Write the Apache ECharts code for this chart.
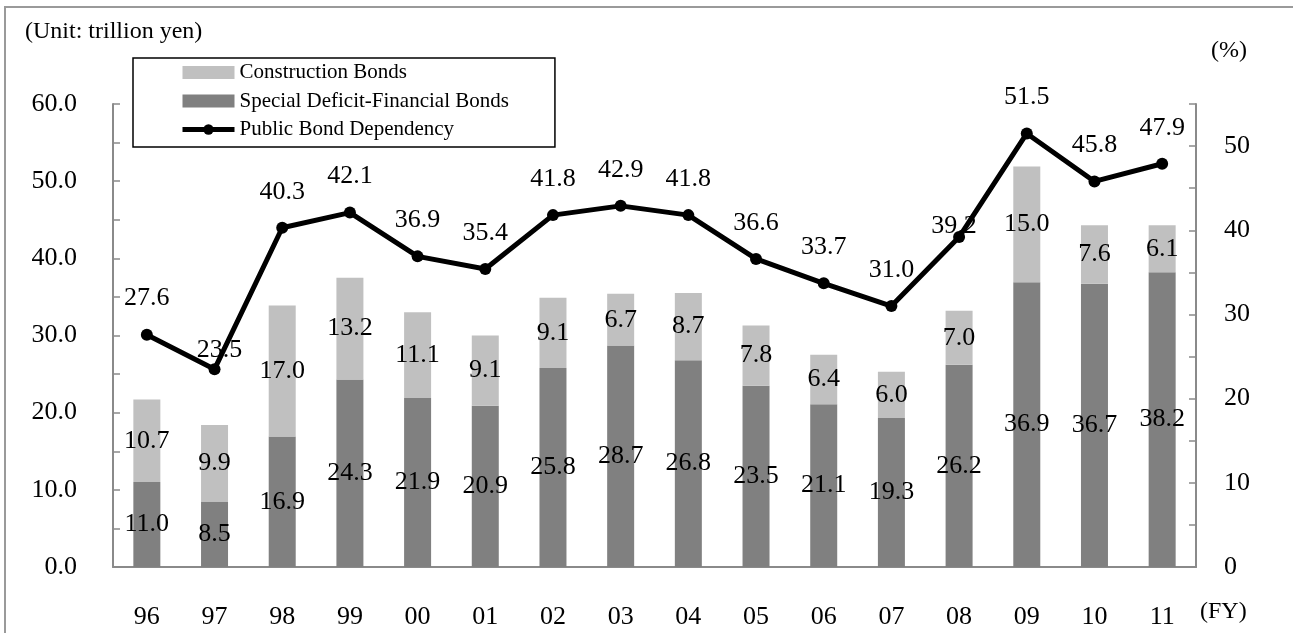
<!DOCTYPE html>
<html>
<head>
<meta charset="utf-8">
<script src="https://cdn.jsdelivr.net/npm/echarts@6/dist/echarts.min.js"></script>
<style>
html,body{margin:0;padding:0;background:#fff;}
#chart{width:1293px;height:633px;}
</style>
</head>
<body>
<div id="chart"></div>
<script>
// ---- data ----
var categories = ['96','97','98','99','00','01','02','03','04','05','06','07','08','09','10','11'];
var specialDeficitBonds = [11.0, 8.5, 16.9, 24.3, 21.9, 20.9, 25.8, 28.7, 26.8, 23.5, 21.1, 19.3, 26.2, 36.9, 36.7, 38.2];
var constructionBonds = [10.7, 9.9, 17.0, 13.2, 11.1, 9.1, 9.1, 6.7, 8.7, 7.8, 6.4, 6.0, 7.0, 15.0, 7.6, 6.1];
var bondDependency = [27.6, 23.5, 40.3, 42.1, 36.9, 35.4, 41.8, 42.9, 41.8, 36.6, 33.7, 31.0, 39.2, 51.5, 45.8, 47.9];
var leftTicks = [0, 10, 20, 30, 40, 50, 60];
var rightTicks = [0, 10, 20, 30, 40, 50];

// label nudges for the line (style only)
var lineLabelNudge = {1: [5, 17], 12: [-5, 25]};

var FONT = '"Liberation Serif", "Times New Roman", serif';
var AXIS_COLOR = '#8a8a8a';
var FS = 26;

var lineData = bondDependency.map(function (v, i) {
  var d = {value: v};
  if (lineLabelNudge[i]) d.label = {offset: lineLabelNudge[i]};
  return d;
});

var chart = echarts.init(document.getElementById('chart'), null, {renderer: 'canvas'});
chart.setOption({
  backgroundColor: '#fff',
  animation: false,
  textStyle: {fontFamily: FONT, color: '#000'},
  graphic: [
    {type: 'rect', shape: {x: 5, y: 7, width: 1300, height: 640},
     style: {fill: 'none', stroke: '#9a9a9a', lineWidth: 2}, silent: true, z: -1},
    {type: 'text', left: 25, top: 20,
     style: {text: '(Unit: trillion yen)', font: '24px ' + FONT, fill: '#000'}},
    {type: 'text', left: 1211, top: 39,
     style: {text: '(%)', font: '24px ' + FONT, fill: '#000'}},
    {type: 'text', left: 1200, top: 600,
     style: {text: '(FY)', font: '24px ' + FONT, fill: '#000'}}
  ],
  legend: {
    orient: 'vertical',
    left: 133, top: 58,
    data: [
      {name: 'Construction Bonds', icon: 'rect'},
      {name: 'Special Deficit-Financial Bonds', icon: 'rect'},
      {name: 'Public Bond Dependency', lineStyle: {width: 5, color: '#000'}, itemStyle: {color: '#000'}}
    ],
    itemWidth: 52, itemHeight: 13, itemGap: 7.5,
    padding: [4, 46, 7, 47],
    borderColor: '#000', borderWidth: 1.5,
    textStyle: {fontFamily: FONT, fontSize: 21, color: '#000'},
    selectedMode: false
  },
  grid: {left: 113, right: 97, top: 104, bottom: 66},
  xAxis: {
    type: 'category',
    data: categories,
    boundaryGap: true,
    axisLine: {lineStyle: {color: AXIS_COLOR, width: 2}},
    axisTick: {inside: true, length: 7, lineStyle: {color: AXIS_COLOR, width: 1.5}},
    axisLabel: {fontFamily: FONT, fontSize: FS, color: '#000', margin: 37}
  },
  yAxis: [
    {
      type: 'value', min: 0, max: 60, interval: 5,
      splitLine: {show: false},
      axisLine: {show: true, lineStyle: {color: AXIS_COLOR, width: 2}},
      axisTick: {show: true, inside: true, length: 7, lineStyle: {color: AXIS_COLOR, width: 1.5}},
      axisLabel: {
        fontFamily: FONT, fontSize: FS, color: '#000', margin: 36,
        formatter: function (v) { return leftTicks.indexOf(v) >= 0 ? v.toFixed(1) : ''; }
      }
    },
    {
      type: 'value', min: 0, max: 55, interval: 5, position: 'right',
      splitLine: {show: false},
      axisLine: {show: true, lineStyle: {color: AXIS_COLOR, width: 2}},
      axisTick: {show: true, inside: true, length: 7, lineStyle: {color: AXIS_COLOR, width: 1.5}},
      axisLabel: {
        fontFamily: FONT, fontSize: FS, color: '#000', margin: 28,
        formatter: function (v) { return rightTicks.indexOf(v) >= 0 ? String(v) : ''; }
      }
    }
  ],
  series: [
    {
      name: 'Special Deficit-Financial Bonds', type: 'bar', stack: 'bonds',
      data: specialDeficitBonds, barWidth: 27,
      itemStyle: {color: '#808080'},
      label: {show: true, position: 'inside', color: '#000', fontFamily: FONT, fontSize: FS,
              formatter: function (p) { return p.value.toFixed(1); }},
      z: 2
    },
    {
      name: 'Construction Bonds', type: 'bar', stack: 'bonds',
      data: constructionBonds, barWidth: 27,
      itemStyle: {color: '#c0c0c0'},
      label: {show: true, position: 'inside', color: '#000', fontFamily: FONT, fontSize: FS,
              formatter: function (p) { return p.value.toFixed(1); }},
      z: 2
    },
    {
      name: 'Public Bond Dependency', type: 'line', yAxisIndex: 1,
      data: lineData,
      symbol: 'circle', symbolSize: 12,
      lineStyle: {color: '#000', width: 5},
      itemStyle: {color: '#000'},
      label: {show: true, position: 'top', distance: 17, color: '#000', fontFamily: FONT, fontSize: FS,
              formatter: function (p) { return p.value.toFixed(1); }},
      z: 5
    }
  ]
});
</script>
</body>
</html>
